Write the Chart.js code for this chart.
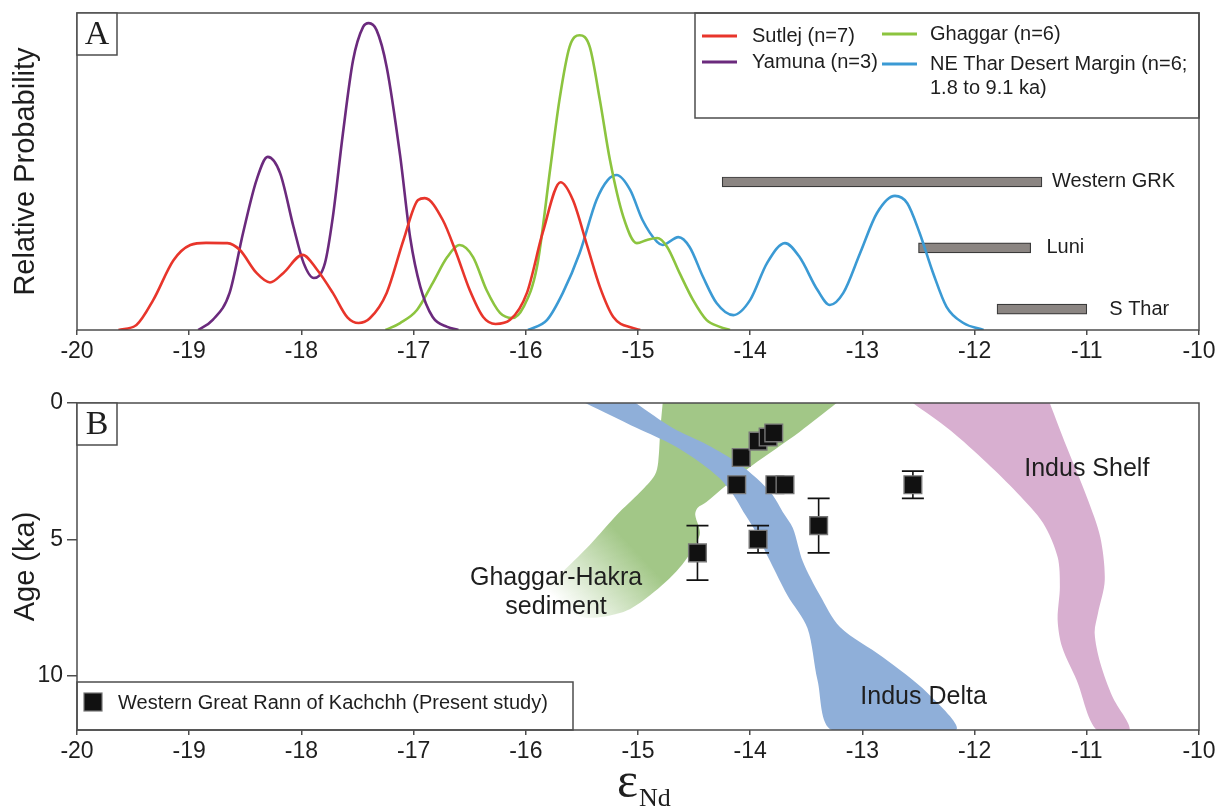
<!DOCTYPE html>
<html>
<head>
<meta charset="utf-8">
<script src="https://cdn.jsdelivr.net/npm/chart.js@4.4.1/dist/chart.umd.min.js"></script>
<style>
  html, body { margin: 0; padding: 0; background: #fff; }
  #wrap { position: relative; width: 1220px; height: 809px; overflow: hidden; }
  #chartA { position: absolute; left: 0; top: 0; }
  #chartB { position: absolute; left: 0; top: 375px; }
</style>
</head>
<body>
<div id="wrap">
  <canvas id="chartA" width="1220" height="375"></canvas>
  <canvas id="chartB" width="1220" height="434"></canvas>
</div>
<script>
// ---- Panel A : probability curves (eNd vs relative probability) ----
const seriesNames = ['Sutlej (n=7)', 'Yamuna (n=3)', 'Ghaggar (n=6)', 'NE Thar Desert Margin (n=6;\n1.8 to 9.1 ka)'];

const sutlejX = [-19.63, -19.47, -19.32, -19.14, -18.99, -18.85, -18.66, -18.55, -18.40, -18.28, -18.16, -17.99, -17.86, -17.72, -17.59, -17.49, -17.39, -17.24, -17.09, -16.96, -16.90, -16.74, -16.62, -16.50, -16.38, -16.27, -16.14, -15.99, -15.85, -15.69, -15.58, -15.45, -15.34, -15.22, -15.04, -14.98];
const sutlejP = [0.0, 0.016, 0.095, 0.22, 0.268, 0.275, 0.274, 0.253, 0.18, 0.15, 0.18, 0.237, 0.19, 0.117, 0.04, 0.022, 0.037, 0.117, 0.284, 0.41, 0.416, 0.347, 0.243, 0.126, 0.041, 0.019, 0.032, 0.117, 0.306, 0.466, 0.41, 0.262, 0.136, 0.041, 0.006, 0.0];

const yamunaX = [-18.92, -18.79, -18.64, -18.52, -18.40, -18.30, -18.19, -18.07, -17.98, -17.89, -17.79, -17.72, -17.63, -17.54, -17.45, -17.40, -17.33, -17.24, -17.12, -17.03, -16.94, -16.83, -16.70, -16.60];
const yamunaP = [0.0, 0.032, 0.117, 0.306, 0.473, 0.546, 0.495, 0.325, 0.211, 0.164, 0.211, 0.356, 0.62, 0.85, 0.956, 0.968, 0.946, 0.83, 0.55, 0.29, 0.136, 0.041, 0.01, 0.0];

const ghaggarX = [-17.25, -17.12, -16.97, -16.83, -16.70, -16.59, -16.47, -16.35, -16.23, -16.12, -16.02, -15.90, -15.78, -15.70, -15.61, -15.52, -15.43, -15.34, -15.25, -15.13, -15.01, -14.92, -14.83, -14.74, -14.63, -14.51, -14.39, -14.27, -14.18];
const ghaggarP = [0.0, 0.022, 0.063, 0.148, 0.23, 0.268, 0.23, 0.126, 0.054, 0.038, 0.073, 0.2, 0.515, 0.726, 0.893, 0.93, 0.893, 0.726, 0.536, 0.356, 0.274, 0.284, 0.29, 0.262, 0.18, 0.095, 0.032, 0.01, 0.0];

const tharX = [-15.98, -15.81, -15.67, -15.52, -15.37, -15.27, -15.19, -15.07, -14.96, -14.83, -14.78, -14.64, -14.54, -14.42, -14.30, -14.15, -14.00, -13.85, -13.69, -13.56, -13.40, -13.29, -13.17, -13.02, -12.87, -12.71, -12.60, -12.49, -12.37, -12.25, -12.10, -11.92];
const tharP = [0.0, 0.032, 0.117, 0.243, 0.41, 0.473, 0.489, 0.442, 0.347, 0.278, 0.268, 0.293, 0.262, 0.167, 0.085, 0.047, 0.095, 0.211, 0.274, 0.23, 0.126, 0.079, 0.117, 0.243, 0.369, 0.423, 0.4, 0.306, 0.18, 0.073, 0.022, 0.0];

// source ranges (grey bars)
const barNames = ['Western GRK', 'Luni', 'S Thar'];
const barStart = [-14.25, -12.5, -11.8];
const barEnd = [-11.4, -11.5, -11.0];
const barLevel = [0.467, 0.259, 0.066];
const barLabelX = [-11.31, -11.36, -10.80];

// ---- Panel B : age vs eNd ----
const ptX = [-14.47, -13.93, -13.39, -14.12, -14.08, -13.93, -13.84, -13.79, -13.78, -13.69, -12.55];
const ptAge = [5.5, 5.0, 4.5, 3.0, 2.0, 1.4, 1.25, 1.1, 3.0, 3.0, 3.0];
const ptErr = [1.0, 0.5, 1.0, 0, 0, 0, 0, 0, 0, 0, 0.5];
const pointsName = 'Western Great Rann of Kachchh (Present study)';

// fields: outline goes down one edge and back up the other
const shelfX = [-12.55, -12.22, -11.89, -11.62, -11.39, -11.26, -11.24, -11.26, -11.22, -11.09, -10.91, -10.62, -10.77, -10.88, -10.93, -10.90, -10.84, -10.88, -11.0, -11.18, -11.33];
const shelfAge = [0, 0.99, 2.20, 3.30, 4.40, 5.65, 6.75, 7.96, 8.95, 10.17, 12, 12, 10.79, 9.54, 8.44, 7.71, 6.50, 4.92, 3.45, 1.61, 0];

const deltaX = [-15.47, -15.01, -14.69, -14.45, -14.27, -14.15, -14.06, -13.97, -13.82, -13.67, -13.49, -13.40, -13.27, -12.17, -12.42, -12.82, -13.20, -13.38, -13.53, -13.62, -13.71, -13.80, -13.94, -14.12, -14.38, -14.69, -15.02];
const deltaAge = [0, 0.92, 1.54, 2.17, 2.77, 3.38, 4.0, 4.59, 5.83, 7.05, 8.26, 10.17, 12, 12, 10.64, 9.32, 8.22, 7.05, 5.83, 4.59, 4.0, 3.38, 2.77, 2.17, 1.54, 0.92, 0];

const ghX = [-14.78, -14.80, -14.82, -14.85, -14.98, -15.19, -15.43, -15.70, -15.86, -15.50, -15.13, -14.89, -14.63, -14.45, -14.49, -14.47, -14.39, -14.21, -13.98, -13.56, -13.23];
const ghAge = [0, 0.92, 2.17, 2.64, 3.27, 4.11, 5.21, 6.31, 6.95, 7.85, 7.67, 7.05, 6.05, 4.84, 4.10, 3.85, 3.63, 3.01, 2.28, 1.06, 0];

const regionNames = ['Ghaggar-Hakra\nsediment', 'Indus Delta', 'Indus Shelf'];
const regionLabelX = [-15.73, -12.455, -11.0];
const regionLabelAge = [6.95, 10.79, 2.42];

const xTicks = [-20, -19, -18, -17, -16, -15, -14, -13, -12, -11, -10];
const ageTicks = [0, 5, 10];

// ---- styles ----
const SANS = '"Liberation Sans", Arial, sans-serif';
const SERIF = '"Liberation Serif", "Times New Roman", serif';
const AXIS = '#4d4d4d';
const INK = '#1e1e1e';
const colors = ['#e8352b', '#6b2a7d', '#8cc43f', '#3b9ad4'];

const pts = (xs, ys) => xs.map((x, i) => ({ x: x, y: ys[i] }));

function xAxis(height) {
  return {
    type: 'linear', min: -20, max: -10, offset: false,
    afterBuildTicks: s => { s.ticks = xTicks.map(v => ({ value: v })); },
    ticks: { color: INK, font: { family: SANS, size: 23 }, padding: 3, callback: v => String(v) },
    grid: { drawOnChartArea: false, drawTicks: true, tickLength: 5, color: AXIS, lineWidth: 1.5, offset: false },
    border: { display: false },
    afterFit: s => { s.height = height; s.paddingLeft = 0; s.paddingRight = 0; }
  };
}

function yTitle(text) {
  return { display: true, text: text, color: INK, font: { family: SANS, size: 29 }, padding: { top: 9, bottom: 0 } };
}

// frame round the plot area + boxed panel letter
function framePlugin(letter) {
  return {
    id: 'frame' + letter,
    afterDatasetsDraw(chart) {
      const { ctx, chartArea: a } = chart;
      ctx.save();
      ctx.strokeStyle = AXIS;
      ctx.lineWidth = 1.5;
      ctx.strokeRect(a.left, a.top, a.width, a.height);
      ctx.fillStyle = '#fff';
      ctx.fillRect(a.left, a.top, 40, 42);
      ctx.strokeRect(a.left, a.top, 40, 42);
      ctx.fillStyle = INK;
      ctx.font = '34px ' + SERIF;
      ctx.textAlign = 'center';
      ctx.textBaseline = 'middle';
      ctx.fillText(letter, a.left + 20, a.top + 22);
      ctx.restore();
    }
  };
}

// ---- Panel A ----
const labelsA = {
  id: 'labelsA',
  afterDatasetsDraw(chart) {
    const { ctx, chartArea: a, scales } = chart;
    ctx.save();
    ctx.fillStyle = INK;
    ctx.font = '20px ' + SANS;
    ctx.textBaseline = 'middle';
    ctx.textAlign = 'left';
    barNames.forEach((n, i) => {
      ctx.fillText(n, scales.x.getPixelForValue(barLabelX[i]), scales.y.getPixelForValue(barLevel[i]));
    });

    // legend box
    const L = a.right - 504, T = a.top;
    ctx.fillStyle = '#fff';
    ctx.fillRect(L, T, 504, 105);
    ctx.strokeStyle = AXIS;
    ctx.lineWidth = 1.5;
    ctx.strokeRect(L, T, 504, 105);
    const slots = [[7, 23], [7, 49], [187, 21], [187, 51]];
    seriesNames.forEach((n, i) => {
      const [dx, dy] = slots[i];
      ctx.strokeStyle = colors[i];
      ctx.lineWidth = 3;
      ctx.beginPath();
      ctx.moveTo(L + dx, T + dy);
      ctx.lineTo(L + dx + 35, T + dy);
      ctx.stroke();
      ctx.fillStyle = INK;
      n.split('\n').forEach((line, k) => ctx.fillText(line, L + dx + 50 - (i > 1 ? 2 : 0), T + dy + k * 24));
    });
    ctx.restore();
  }
};

new Chart(document.getElementById('chartA'), {
  type: 'scatter',
  data: {
    datasets: [
      ...[[sutlejX, sutlejP], [yamunaX, yamunaP], [ghaggarX, ghaggarP], [tharX, tharP]].map((s, i) => ({
        type: 'line',
        label: seriesNames[i],
        data: pts(s[0], s[1]),
        borderColor: colors[i],
        borderWidth: 2.6,
        pointRadius: 0,
        fill: false,
        cubicInterpolationMode: 'monotone'
      })),
      {
        type: 'bar',
        indexAxis: 'y',
        label: 'ranges',
        data: barNames.map((n, i) => ({ x: [barStart[i], barEnd[i]], y: barLevel[i] })),
        backgroundColor: '#8b8582',
        borderColor: '#3a3a3a',
        borderWidth: 1.2,
        borderSkipped: false,
        barThickness: 10,
        grouped: false
      }
    ]
  },
  options: {
    responsive: false,
    animation: false,
    events: [],
    layout: { padding: { top: 13, right: 21, left: 0, bottom: 0 } },
    plugins: { legend: { display: false }, tooltip: { enabled: false } },
    scales: {
      x: xAxis(45),
      y: {
        type: 'linear', min: 0, max: 1, offset: false,
        ticks: { display: false },
        grid: { display: false, offset: false },
        border: { display: false },
        title: yTitle('Relative Probability'),
        afterFit: s => { s.width = 77; }
      }
    }
  },
  plugins: [labelsA, framePlugin('A')]
});

// ---- Panel B ----
const errorBars = {
  id: 'errorBars',
  beforeDatasetDraw(chart, args) {
    if (args.index !== 0) return;
    const { ctx, scales } = chart;
    ctx.save();
    ctx.strokeStyle = '#111';
    ctx.lineWidth = 1.6;
    ptX.forEach((x, i) => {
      if (!ptErr[i]) return;
      const px = scales.x.getPixelForValue(x);
      const y1 = scales.y.getPixelForValue(ptAge[i] - ptErr[i]);
      const y2 = scales.y.getPixelForValue(ptAge[i] + ptErr[i]);
      ctx.beginPath();
      ctx.moveTo(px, y1); ctx.lineTo(px, y2);
      ctx.moveTo(px - 11, y1); ctx.lineTo(px + 11, y1);
      ctx.moveTo(px - 11, y2); ctx.lineTo(px + 11, y2);
      ctx.stroke();
    });
    ctx.restore();
  }
};

const labelsB = {
  id: 'labelsB',
  afterDatasetsDraw(chart) {
    const { ctx, chartArea: a, scales } = chart;
    ctx.save();
    ctx.fillStyle = INK;
    ctx.font = '25px ' + SANS;
    ctx.textAlign = 'center';
    ctx.textBaseline = 'middle';
    regionNames.forEach((n, i) => {
      const lines = n.split('\n');
      const cx = scales.x.getPixelForValue(regionLabelX[i]);
      const cy = scales.y.getPixelForValue(regionLabelAge[i]);
      lines.forEach((line, k) => ctx.fillText(line, cx, cy + (k - (lines.length - 1) / 2) * 29));
    });

    // legend box bottom-left
    ctx.fillStyle = '#fff';
    ctx.fillRect(a.left, a.bottom - 48, 496, 48);
    ctx.strokeStyle = AXIS;
    ctx.lineWidth = 1.5;
    ctx.strokeRect(a.left, a.bottom - 48, 496, 48);
    ctx.fillStyle = '#111';
    ctx.fillRect(a.left + 7, a.bottom - 37, 18, 18);
    ctx.strokeStyle = '#777';
    ctx.lineWidth = 1.2;
    ctx.strokeRect(a.left + 7, a.bottom - 37, 18, 18);
    ctx.fillStyle = INK;
    ctx.font = '20px ' + SANS;
    ctx.textAlign = 'left';
    ctx.fillText(pointsName, a.left + 41, a.bottom - 27);

    // x title: epsilon Nd
    const mx = a.left + a.width / 2;
    ctx.textBaseline = 'alphabetic';
    ctx.font = '50px ' + SERIF;
    ctx.textAlign = 'right';
    ctx.fillText('\u03b5', mx, a.bottom + 67);
    ctx.font = '26px ' + SERIF;
    ctx.textAlign = 'left';
    ctx.fillText('Nd', mx + 1, a.bottom + 76);
    ctx.restore();
  }
};

const greenFill = (c) => {
  const { chart } = c;
  const s = chart.scales;
  if (!s || !s.x || !chart.chartArea) return '#a2c787';
  const g = chart.ctx.createLinearGradient(
    s.x.getPixelForValue(-15.05), s.y.getPixelForValue(5.3),
    s.x.getPixelForValue(-15.65), s.y.getPixelForValue(7.6));
  g.addColorStop(0, 'rgba(162,199,135,1)');
  g.addColorStop(1, 'rgba(162,199,135,0)');
  return g;
};

const band = (label, xs, ys, color) => ({
  type: 'line',
  label: label,
  data: pts(xs, ys),
  showLine: true,
  borderWidth: 0,
  borderColor: 'rgba(0,0,0,0)',
  backgroundColor: color,
  pointRadius: 0,
  tension: 0.3,
  capBezierPoints: false,
  fill: 'shape'
});

new Chart(document.getElementById('chartB'), {
  type: 'scatter',
  data: {
    datasets: [
      {
        label: pointsName,
        data: pts(ptX, ptAge),
        pointStyle: 'rect',
        pointRadius: 12.5,
        backgroundColor: '#111',
        borderColor: '#777',
        borderWidth: 1.4
      },
      band('Indus Shelf', shelfX, shelfAge, '#d8afd0'),
      band('Indus Delta', deltaX, deltaAge, '#8fafd9'),
      band('Ghaggar-Hakra sediment', ghX, ghAge, greenFill)
    ]
  },
  options: {
    responsive: false,
    animation: false,
    events: [],
    layout: { padding: { top: 28, right: 21, left: 0, bottom: 0 } },
    plugins: { legend: { display: false }, tooltip: { enabled: false } },
    scales: {
      x: xAxis(79),
      y: {
        type: 'linear', min: 0, max: 12, reverse: true,
        afterBuildTicks: s => { s.ticks = ageTicks.map(v => ({ value: v })); },
        ticks: { color: INK, font: { family: SANS, size: 23 }, padding: 4 },
        grid: { drawOnChartArea: false, drawTicks: true, tickLength: 10, color: AXIS, lineWidth: 1.5 },
        border: { display: false },
        title: yTitle('Age (ka)'),
        afterFit: s => { s.width = 77; }
      }
    }
  },
  plugins: [errorBars, labelsB, framePlugin('B')]
});
</script>
</body>
</html>
